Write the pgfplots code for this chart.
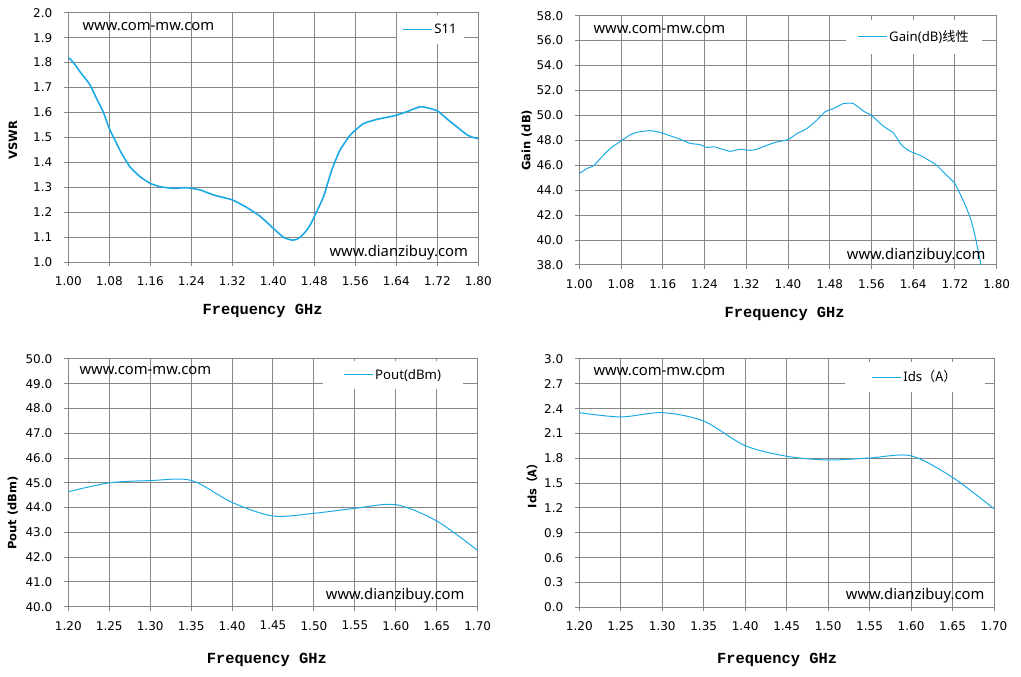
\documentclass[border=0pt]{standalone}
\usepackage{pgfplots}
\pgfplotsset{compat=1.18}
\usepackage{fontspec}
\setmainfont{DejaVu Sans}
\newfontfamily\wmfont{Noto Sans}
\newfontfamily\cjk{Noto Sans CJK SC}
\newfontfamily\labfont{Liberation Mono}
\definecolor{gridgray}{RGB}{134,134,134}
\definecolor{cline}{RGB}{28,170,230}

\pgfplotstableread{
f v
1.000 1.820
1.005 1.812
1.012 1.795
1.023 1.763
1.033 1.737
1.042 1.712
1.055 1.657
1.068 1.603
1.080 1.536
1.091 1.490
1.104 1.436
1.120 1.383
1.140 1.343
1.160 1.316
1.179 1.303
1.205 1.296
1.231 1.299
1.257 1.290
1.283 1.270
1.320 1.250
1.348 1.220
1.374 1.185
1.400 1.136
1.420 1.100
1.436 1.089
1.446 1.092
1.455 1.105
1.465 1.128
1.472 1.149
1.480 1.183
1.498 1.263
1.514 1.369
1.530 1.449
1.550 1.510
1.560 1.529
1.576 1.556
1.601 1.572
1.627 1.583
1.640 1.589
1.660 1.603
1.686 1.623
1.699 1.620
1.720 1.607
1.738 1.576
1.758 1.543
1.777 1.512
1.790 1.500
1.800 1.496
}\sdata

\pgfplotstableread{
f g
1.000 45.33
1.014 45.73
1.027 45.95
1.040 46.53
1.059 47.34
1.080 47.95
1.097 48.43
1.110 48.64
1.135 48.78
1.155 48.64
1.174 48.37
1.193 48.10
1.212 47.76
1.231 47.66
1.244 47.44
1.260 47.47
1.276 47.26
1.289 47.12
1.308 47.28
1.327 47.20
1.340 47.28
1.359 47.60
1.378 47.86
1.400 48.06
1.417 48.54
1.436 48.94
1.455 49.61
1.471 50.29
1.487 50.55
1.506 50.95
1.525 50.95
1.545 50.33
1.560 50.00
1.583 49.13
1.602 48.59
1.618 47.60
1.634 47.12
1.653 46.80
1.672 46.35
1.685 46.00
1.704 45.20
1.720 44.53
1.737 43.06
1.750 41.72
1.759 40.25
1.770 38.00
}\gdata

\pgfplotstableread{
f p
1.20 44.64
1.25 45.00
1.30 45.09
1.35 45.10
1.40 44.21
1.45 43.66
1.50 43.77
1.55 43.97
1.60 44.12
1.65 43.46
1.70 42.27
}\pdata

\pgfplotstableread{
f i
1.20 2.352
1.25 2.300
1.30 2.352
1.35 2.250
1.40 1.953
1.45 1.825
1.50 1.780
1.55 1.804
1.60 1.830
1.65 1.570
1.70 1.190
}\idata

\pgfplotsset{
 panel/.style={
  scale only axis,
  anchor=south west,
  axis line style={draw=gridgray, line width=1pt},
  grid=major,
  major grid style={draw=gridgray, line width=1pt},
  tick style={draw=gridgray, line width=1pt},
  tick align=outside,
  major tick length=4pt,
  xtick pos=left, ytick pos=left,
  /pgf/number format/assume math mode=true,
  tick label style={font=\fontsize{12}{14}\selectfont, text=black},
  xticklabel style={yshift=-7pt, /pgf/number format/fixed, /pgf/number format/fixed zerofill, /pgf/number format/precision=2},
  yticklabel style={xshift=-8.5pt, /pgf/number format/fixed, /pgf/number format/fixed zerofill, /pgf/number format/precision=1},
  xlabel style={font=\labfont\bfseries\fontsize{15.4}{17}\selectfont, anchor=base},
  ylabel style={font=\bfseries\fontsize{11.5}{13}\selectfont, anchor=base},
  legend style={draw=none, fill=white, font=\wmfont\fontsize{13.2}{15}\selectfont, anchor=north west, legend cell align=left, inner xsep=5pt, inner ysep=7pt},
  legend image code/.code={\draw[cline, line width=1pt] (0pt,0pt) -- (29pt,0pt);},
 }
}

\begin{document}
\begin{tikzpicture}
\useasboundingbox (0,0) rectangle (1021pt,677pt);

% Panel 1: VSWR
\begin{axis}[panel, at={(68.3pt,414.7pt)}, width=410pt, height=249.6pt,
  xmin=1.0, xmax=1.8, ymin=1.0, ymax=2.0,
  xtick={1.00,1.08,1.16,1.24,1.32,1.40,1.48,1.56,1.64,1.72,1.80},
  ytick={1.0,1.1,1.2,1.3,1.4,1.5,1.6,1.7,1.8,1.9,2.0},
  xlabel={Frequency GHz}, ylabel={VSWR},
  xlabel style={at={(axis description cs:0.474,0)}, yshift=-52.5pt},
  ylabel style={at={(axis description cs:-0.1251,0.49)}},
  legend style={at={(0.802,0.991)}, inner xsep=5pt, inner ysep=7pt}]
\addplot[cline, line width=1.6pt, smooth, tension=0.3] table[x=f,y=v] {\sdata};
\addlegendentry{S11}
\end{axis}

% Panel 2: Gain
\begin{axis}[panel, at={(579.3pt,412pt)}, width=417.4pt, height=249.3pt,
  xmin=1.0, xmax=1.8, ymin=38, ymax=58,
  xtick={1.00,1.08,1.16,1.24,1.32,1.40,1.48,1.56,1.64,1.72,1.80},
  ytick={38,40,42,44,46,48,50,52,54,56,58},
  xlabel={Frequency GHz}, ylabel={Gain (dB)},
  xlabel style={at={(axis description cs:0.492,0)}, yshift=-52.5pt},
  ylabel style={at={(axis description cs:-0.1174,0.50)}},
  legend style={at={(0.639,0.985)}, inner xsep=11pt, inner ysep=9pt}]
\addplot[cline, line width=1pt, smooth, tension=0.3] table[x=f,y=g] {\gdata};
\addlegendentry{Gain(dB){\cjk 线性}}
\end{axis}

% Panel 3: Pout
\begin{axis}[panel, at={(68.3pt,70.3pt)}, width=409.4pt, height=247.7pt,
  xmin=1.2, xmax=1.7, ymin=40, ymax=50,
  xtick={1.20,1.25,1.30,1.35,1.40,1.45,1.50,1.55,1.60,1.65,1.70},
  ytick={40,41,42,43,44,45,46,47,48,49,50},
  xlabel={Frequency GHz}, ylabel={Pout (dBm)},
  xlabel style={at={(axis description cs:0.485,0)}, yshift=-56.5pt},
  ylabel style={at={(axis description cs:-0.127,0.378)}},
  legend style={at={(0.622,0.992)}, inner xsep=20pt, inner ysep=6pt}]
\addplot[cline, line width=1pt, smooth] table[x=f,y=p] {\pdata};
\addlegendentry{Pout(dBm)}
\end{axis}

% Panel 4: Ids
\begin{axis}[panel, at={(579.3pt,69.7pt)}, width=414.7pt, height=248.3pt,
  xmin=1.2, xmax=1.7, ymin=0, ymax=3,
  xtick={1.20,1.25,1.30,1.35,1.40,1.45,1.50,1.55,1.60,1.65,1.70},
  ytick={0,0.3,0.6,0.9,1.2,1.5,1.8,2.1,2.4,2.7,3.0},
  xlabel={Frequency GHz}, ylabel={Ids{\cjk（A）}},
  xlabel style={at={(axis description cs:0.477,0)}, yshift=-56.5pt},
  ylabel style={at={(axis description cs:-0.1037,0.50)}},
  legend style={at={(0.641,0.988)}, inner xsep=26pt, inner ysep=6.5pt}]
\addplot[cline, line width=1pt, smooth] table[x=f,y=i] {\idata};
\addlegendentry{Ids{\cjk（A）}}
\end{axis}

% watermarks
\begin{scope}[every node/.style={anchor=base west, inner sep=0pt, font=\wmfont\fontsize{14.8}{17}\selectfont, text=black}]
\node at (82.3pt,646.7pt) {www.com-mw.com};
\node at (329.3pt,420.7pt) {www.dianzibuy.com};
\node at (593.3pt,643.7pt) {www.com-mw.com};
\node at (846.7pt,417.7pt) {www.dianzibuy.com};
\node at (79.3pt,302pt) {www.com-mw.com};
\node at (325.7pt,77.7pt) {www.dianzibuy.com};
\node at (593.3pt,301pt) {www.com-mw.com};
\node at (845.7pt,77.7pt) {www.dianzibuy.com};
\end{scope}
\end{tikzpicture}
\end{document}
